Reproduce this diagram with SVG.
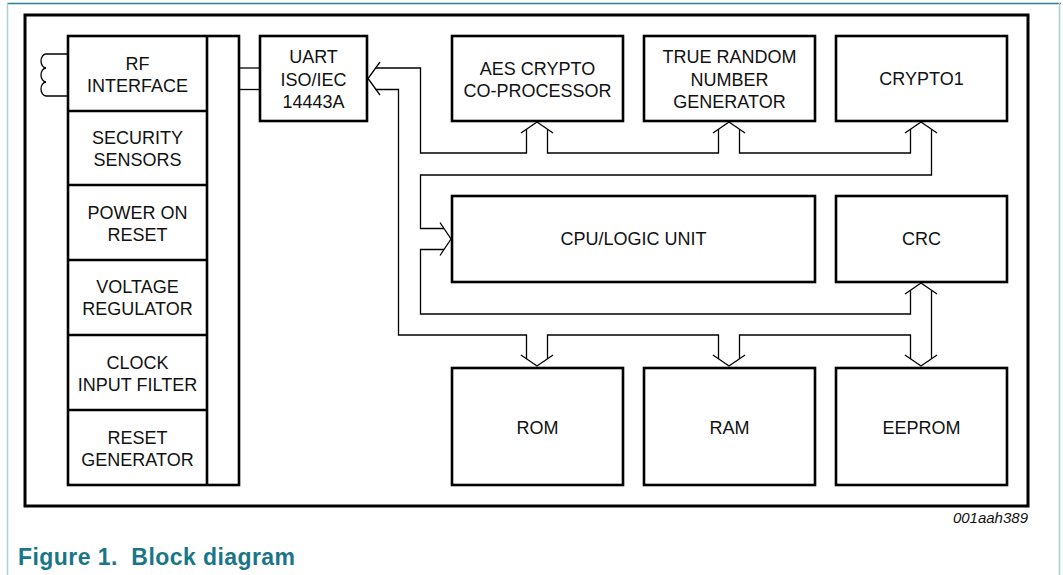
<svg xmlns="http://www.w3.org/2000/svg" width="1063" height="575" viewBox="0 0 1063 575">
<style>
  .box{fill:#fff;stroke:#000;stroke-width:2.6}
  .div{stroke:#000;stroke-width:2.6;fill:none}
  .t{font-family:"Liberation Sans",Arial,sans-serif;font-size:18px;fill:#111;text-anchor:middle}
  .w{fill:none;stroke:#000;stroke-width:1.3;stroke-linejoin:miter}
</style>
<rect width="1063" height="575" fill="#fff"/>
<!-- page frame -->
<line x1="7" y1="3.5" x2="1061" y2="3.5" stroke="#2b7f90" stroke-width="1.3"/>
<line x1="7.5" y1="3" x2="7.5" y2="575" stroke="#a9d0da" stroke-width="1.5"/>
<line x1="1059.5" y1="3" x2="1059.5" y2="575" stroke="#a9d0da" stroke-width="1.5"/>
<!-- diagram frame -->
<rect x="25" y="15" width="1003" height="491" fill="none" stroke="#000" stroke-width="3"/>

<g id="left-column">
  <rect class="box" x="68" y="36" width="171" height="449"/>
  <line class="div" x1="207" y1="36" x2="207" y2="485"/>
  <line class="div" x1="68" y1="111" x2="207" y2="111"/>
  <line class="div" x1="68" y1="185" x2="207" y2="185"/>
  <line class="div" x1="68" y1="260" x2="207" y2="260"/>
  <line class="div" x1="68" y1="335" x2="207" y2="335"/>
  <line class="div" x1="68" y1="410" x2="207" y2="410"/>
</g>
<g id="rf-interface">
  <path class="w" d="M68,54 H46 a5,7 0 0 0 0,14 a5,7 0 0 0 0,14 a5,7 0 0 0 0,14 H68"/>
  <text class="t" x="137.5" y="69.5">RF</text>
  <text class="t" x="137.5" y="91.5">INTERFACE</text>
</g>
<g id="security-sensors">
  <text class="t" x="137.5" y="144">SECURITY</text>
  <text class="t" x="137.5" y="166">SENSORS</text>
</g>
<g id="power-on-reset">
  <text class="t" x="137.5" y="219">POWER ON</text>
  <text class="t" x="137.5" y="241">RESET</text>
</g>
<g id="voltage-regulator">
  <text class="t" x="137.5" y="293">VOLTAGE</text>
  <text class="t" x="137.5" y="315">REGULATOR</text>
</g>
<g id="clock-input-filter">
  <text class="t" x="137.5" y="368.5">CLOCK</text>
  <text class="t" x="137.5" y="390.5">INPUT FILTER</text>
</g>
<g id="reset-generator">
  <text class="t" x="137.5" y="443.5">RESET</text>
  <text class="t" x="137.5" y="465.5">GENERATOR</text>
</g>

<g id="uart">
  <rect class="box" x="260" y="36" width="107" height="85"/>
  <text class="t" x="313.5" y="63">UART</text>
  <text class="t" x="313.5" y="85.5">ISO/IEC</text>
  <text class="t" x="313.5" y="108">14443A</text>
</g>
<g id="aes">
  <rect class="box" x="452" y="36" width="171" height="85"/>
  <text class="t" x="537.5" y="74.5">AES CRYPTO</text>
  <text class="t" x="537.5" y="96.5">CO-PROCESSOR</text>
</g>
<g id="trng">
  <rect class="box" x="644" y="36" width="171" height="85"/>
  <text class="t" x="729.5" y="63">TRUE RANDOM</text>
  <text class="t" x="729.5" y="85.5">NUMBER</text>
  <text class="t" x="729.5" y="108">GENERATOR</text>
</g>
<g id="crypto1">
  <rect class="box" x="836" y="36" width="171" height="85"/>
  <text class="t" x="921.5" y="85">CRYPTO1</text>
</g>
<g id="cpu">
  <rect class="box" x="452" y="196" width="363" height="86"/>
  <text class="t" x="633.5" y="245">CPU/LOGIC UNIT</text>
</g>
<g id="crc">
  <rect class="box" x="836" y="196" width="171" height="86"/>
  <text class="t" x="921.5" y="245">CRC</text>
</g>
<g id="rom">
  <rect class="box" x="452" y="368" width="171" height="117"/>
  <text class="t" x="537.5" y="434">ROM</text>
</g>
<g id="ram">
  <rect class="box" x="644" y="368" width="171" height="117"/>
  <text class="t" x="729.5" y="434">RAM</text>
</g>
<g id="eeprom">
  <rect class="box" x="836" y="368" width="171" height="117"/>
  <text class="t" x="921.5" y="434">EEPROM</text>
</g>

<g id="connectors">
  <!-- left column to UART -->
  <line class="w" x1="239" y1="68" x2="260" y2="68"/>
  <line class="w" x1="239" y1="89.5" x2="260" y2="89.5"/>
  <!-- arrowheads -->
  <path class="w" d="M380,62 L368,78.5 L380,95"/>
  <path class="w" d="M521,133 L537,122 L553,133"/>
  <path class="w" d="M713,133 L729,122 L745,133"/>
  <path class="w" d="M905,133 L921,122 L937,133"/>
  <path class="w" d="M440,222.5 L451,239 L440,255.5"/>
  <path class="w" d="M905,294 L921,283 L937,294"/>
  <path class="w" d="M905,355 L921,366 L937,355"/>
  <path class="w" d="M713,355 L729,366 L745,355"/>
  <path class="w" d="M521,355 L537,366 L553,355"/>
  <!-- bus lines -->
  <path class="w" d="M375.8,68 H420.5 V153 H526.5 V129.3"/>
  <path class="w" d="M547.5,129.3 V153 H718.5 V129.3"/>
  <path class="w" d="M739.5,129.3 V153 H910.5 V129.3"/>
  <path class="w" d="M931.5,129.3 V175 H420.5 V228.5 H444"/>
  <path class="w" d="M444,249.5 H420.5 V314 H910.5 V290.3"/>
  <path class="w" d="M931.5,290.3 V358.7"/>
  <path class="w" d="M910.5,358.7 V335 H739.5 V358.7"/>
  <path class="w" d="M718.5,358.7 V335 H547.5 V358.7"/>
  <path class="w" d="M526.5,358.7 V335 H398.5 V89.5 H375.8"/>
</g>

<text x="1028" y="523" font-family="'Liberation Sans',Arial,sans-serif" font-size="15" font-style="italic" fill="#111" text-anchor="end">001aah389</text>
<text x="18" y="565" font-family="'Liberation Sans',Arial,sans-serif" font-size="23" font-weight="bold" fill="#1a7687" xml:space="preserve" textLength="277" lengthAdjust="spacing">Figure 1.  Block diagram</text>
</svg>
